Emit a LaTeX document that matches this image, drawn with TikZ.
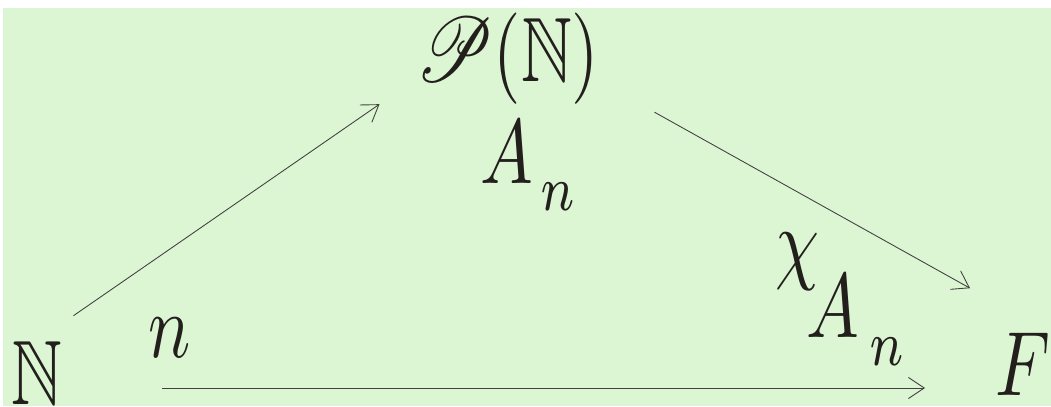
\documentclass[tikz,border=0pt]{standalone}
\usepackage{amsmath, amssymb}
\usepackage{mathrsfs}
\usepackage{graphicx}
\usepackage{xcolor}
\usetikzlibrary{arrows.meta}
\definecolor{paleg}{RGB}{220,246,212}
\definecolor{ink}{RGB}{34,31,28}
\newcommand{\N}{\mathbb{N}}
\newcommand{\tall}[1]{\scalebox{4}[5.2]{#1}}

\begin{document}
\begin{tikzpicture}[x=0.2mm, y=-0.2mm,
		lbl/.style={text=ink, inner sep=0pt},
		arr/.style={draw=ink!85, line width=0.5pt, -{Straight Barb[length=9pt,width=12pt]}}]
			
			\useasboundingbox (0,0) rectangle (1051,406);
			
			% Background
			\fill[white] (0,0) rectangle (1051,406);
			\fill[paleg] (3,8) rectangle (1051,406);
			
			% Sets
			\node[lbl, anchor=base west] (nat) at (11,404) {\tall{$\N$}};
			\node[lbl, anchor=base] (pow) at (508,81) {\tall{$\mathscr{P}(\N)$}};
			\node[lbl, anchor=base west] (F) at (995,395) {\tall{$F$}};
			
			% Elements
			\node[lbl, anchor=base] (n) at (170,357) {\tall{$n$}};
			\node[lbl, anchor=base west] (An) at (480,183) {\tall{$A_{\raisebox{-.15em}{$\kern.1em\scriptstyle n$}}$}};
			\node[lbl, anchor=base west] (chi) at (775,272) {\tall{$\chi_{\raisebox{-.57em}{$\kern-.18em A_{\raisebox{-.15em}{$\kern.15em\scriptstyle n$}}$}}$}};
			
			% Maps
			\draw[arr] ([shift={(11,-25)}]nat.north east) -- ([shift={(-37,0)}]pow.south west);
			\draw[arr] ([shift={(55,8)}]pow.south east) -- ([shift={(-25,-44)}]F.north west);
			\draw[arr] ([shift={(100,-16)}]nat.base east) -- ([shift={(-70,-7)}]F.base west);
			
		\end{tikzpicture}
\end{document}
